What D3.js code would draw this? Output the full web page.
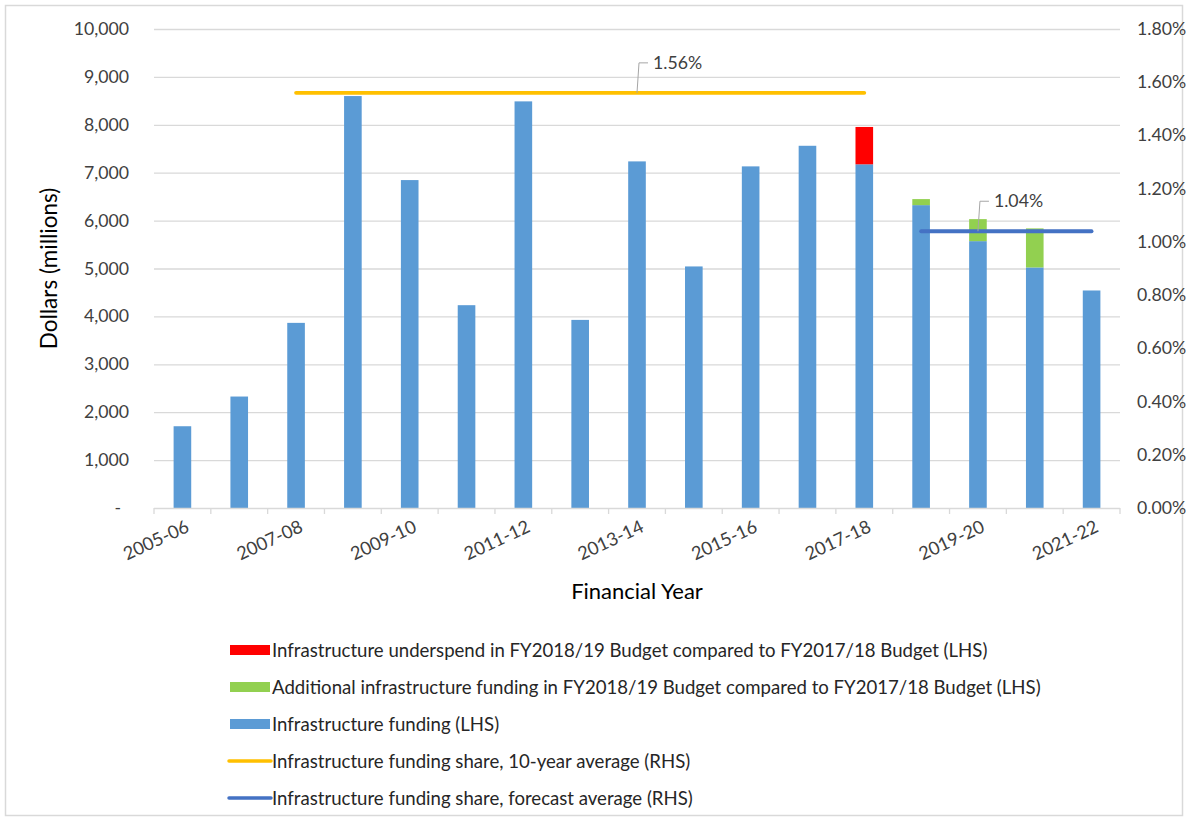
<!DOCTYPE html>
<html>
<head>
<meta charset="utf-8">
<script src="https://cdn.jsdelivr.net/npm/d3@7"></script>
<style>
  body { margin: 0; background: #fff; }
  text { font-family: Lato, "Open Sans", sans-serif; }
</style>
</head>
<body>
<div id="chart"></div>
<script>
// Data
const years = ["2005-06","2006-07","2007-08","2008-09","2009-10","2010-11","2011-12","2012-13",
  "2013-14","2014-15","2015-16","2016-17","2017-18","2018-19","2019-20","2020-21","2021-22"];
// Infrastructure funding (LHS), $m
const funding = [1707, 2327, 3865, 8600, 6846, 4234, 8489, 3927, 7236, 5043, 7132, 7562, 7175, 6323, 5571, 5022, 4541];
// underspend vs FY2017/18 budget (LHS)
const underspend = [0, 0, 0, 0, 0, 0, 0, 0, 0, 0, 0, 0, 780, 0, 0, 0, 0];
// additional funding vs FY2017/18 budget (LHS)
const additional = [0, 0, 0, 0, 0, 0, 0, 0, 0, 0, 0, 0, 0, 126, 460, 815, 0];
// share averages (RHS), %
const tenYearYears = ["2007-08","2017-18"];
const tenYearAvg = 1.56;
const forecastYears = ["2018-19","2021-22"];
const forecastAvg = 1.04;
const leftTicks = [0, 1000, 2000, 3000, 4000, 5000, 6000, 7000, 8000, 9000, 10000];
const rightTicks = [0, 0.2, 0.4, 0.6, 0.8, 1.0, 1.2, 1.4, 1.6, 1.8];
const shownYears = years.filter((d, i) => i % 2 === 0);

const legendItems = [
  {label: "Infrastructure underspend in FY2018/19 Budget compared to FY2017/18 Budget (LHS)", type: "rect", color: "#FF0000"},
  {label: "Additional infrastructure funding in FY2018/19 Budget compared to FY2017/18 Budget (LHS)", type: "rect", color: "#92D050"},
  {label: "Infrastructure funding (LHS)", type: "rect", color: "#5B9BD5"},
  {label: "Infrastructure funding share, 10-year average (RHS)", type: "line", color: "#FFC000"},
  {label: "Infrastructure funding share, forecast average (RHS)", type: "line", color: "#4472C4"}
];

const W = 1188, H = 821;
const plot = {left: 154, right: 1120, top: 29, bottom: 508};

const svg = d3.select("#chart").append("svg")
    .attr("width", W)
    .attr("height", H);

// outer frame
svg.append("rect")
    .attr("x", 5.5).attr("y", 5.5)
    .attr("width", W - 11).attr("height", H - 11)
    .attr("fill", "none").attr("stroke", "#D9D9D9").attr("stroke-width", 1.5);

const x = d3.scaleBand().domain(years).range([plot.left, plot.right]);
const yL = d3.scaleLinear().domain([0, 10000]).range([plot.bottom, plot.top]);
const yR = d3.scaleLinear().domain([0, 1.8]).range([plot.bottom, plot.top]);
const barW = x.bandwidth() * 0.31;

// gridlines
svg.append("g")
  .selectAll("line")
  .data(leftTicks.slice(1))
  .enter().append("line")
    .attr("x1", plot.left).attr("x2", plot.right)
    .attr("y1", d => yL(d) + 0.5).attr("y2", d => yL(d) + 0.5)
    .attr("stroke", "#D9D9D9").attr("stroke-width", 1.3);

// left axis labels
const fmt = d3.format(",");
svg.append("g")
  .selectAll("text")
  .data(leftTicks)
  .enter().append("text")
    .attr("x", d => d === 0 ? 121 : 129)
    .attr("y", d => yL(d) + 6)
    .attr("text-anchor", "end")
    .attr("fill", "#404040")
    .style("font-size", "17.7px")
    .text(d => d === 0 ? "-" : fmt(d));

// right axis labels
svg.append("g")
  .selectAll("text")
  .data(rightTicks)
  .enter().append("text")
    .attr("x", 1137)
    .attr("y", d => yR(d) + 6)
    .attr("text-anchor", "start")
    .attr("fill", "#404040")
    .style("font-size", "17.7px")
    .text(d => d.toFixed(2) + "%");

// stacked bars
const rows = years.map((yr, i) => ({year: yr, funding: funding[i], additional: additional[i], underspend: underspend[i]}));
const keys = ["funding", "additional", "underspend"];
const colors = {funding: "#5B9BD5", additional: "#92D050", underspend: "#FF0000"};
const stack = d3.stack().keys(keys)(rows);

svg.append("g")
  .selectAll("g")
  .data(stack)
  .enter().append("g")
    .attr("fill", d => colors[d.key])
  .selectAll("rect")
  .data(d => d.filter(s => s[1] > s[0]))
  .enter().append("rect")
    .attr("x", d => x(d.data.year) + (x.bandwidth() - barW) / 2)
    .attr("width", barW)
    .attr("y", d => yL(d[1]))
    .attr("height", d => yL(d[0]) - yL(d[1]));

// x axis line + ticks
const xAxis = svg.append("g");
xAxis.append("line")
    .attr("x1", plot.left).attr("x2", plot.right)
    .attr("y1", plot.bottom + 0.5).attr("y2", plot.bottom + 0.5)
    .attr("stroke", "#D9D9D9").attr("stroke-width", 1.3);
xAxis.selectAll(".tk")
  .data(years.concat(["end"]))
  .enter().append("line")
    .attr("class", "tk")
    .attr("x1", d => d === "end" ? plot.right : x(d))
    .attr("x2", d => d === "end" ? plot.right : x(d))
    .attr("y1", plot.bottom).attr("y2", plot.bottom + 6)
    .attr("stroke", "#D9D9D9").attr("stroke-width", 1.3);

xAxis.selectAll(".xl")
  .data(shownYears)
  .enter().append("text")
    .attr("class", "xl")
    .attr("text-anchor", "end")
    .attr("fill", "#404040")
    .style("font-size", "18.2px")
    .attr("transform", d => "translate(" + (x(d) + x.bandwidth() / 2 + 8) + "," + (plot.bottom + 23) + ") rotate(-25)")
    .text(d => d);

// average lines (RHS)
const cx = d => x(d) + x.bandwidth() / 2;
const avgLine = (span, val, color) => {
  svg.append("line")
    .attr("x1", cx(span[0])).attr("x2", cx(span[1]))
    .attr("y1", yR(val)).attr("y2", yR(val))
    .attr("stroke", color).attr("stroke-width", 3.8)
    .attr("stroke-linecap", "round");
};
avgLine(tenYearYears, tenYearAvg, "#FFC000");
avgLine(forecastYears, forecastAvg, "#4472C4");

// data labels with leader lines
const dataLabel = (year, val) => {
  const px = cx(year), py = yR(val);
  svg.append("path")
    .attr("d", "M" + px + "," + py + "L" + (px + 2) + "," + (py - 30) + "L" + (px + 11) + "," + (py - 30))
    .attr("fill", "none").attr("stroke", "#A6A6A6").attr("stroke-width", 1);
  svg.append("text")
    .attr("x", px + 16).attr("y", py - 24)
    .attr("fill", "#404040")
    .style("font-size", "17.7px")
    .text(val.toFixed(2) + "%");
};
dataLabel("2013-14", tenYearAvg);
dataLabel("2019-20", forecastAvg);

// axis titles
svg.append("text")
    .attr("transform", "translate(57," + ((plot.top + plot.bottom) / 2) + ") rotate(-90)")
    .attr("text-anchor", "middle")
    .attr("fill", "#000")
    .style("font-size", "22.5px")
    .text("Dollars (millions)");
svg.append("text")
    .attr("x", 637).attr("y", 599)
    .attr("text-anchor", "middle")
    .attr("fill", "#000")
    .style("font-size", "22px")
    .text("Financial Year");

// legend
const legend = svg.append("g").attr("transform", "translate(229,650)");
const item = legend.selectAll("g")
  .data(legendItems)
  .enter().append("g")
    .attr("transform", (d, i) => "translate(0," + (i * 37) + ")");
item.filter(d => d.type === "rect").append("rect")
    .attr("x", 1).attr("y", -5).attr("width", 40).attr("height", 10)
    .attr("fill", d => d.color);
item.filter(d => d.type === "line").append("line")
    .attr("x1", 0).attr("x2", 42).attr("y1", 0).attr("y2", 0)
    .attr("stroke", d => d.color).attr("stroke-width", 3.5)
    .attr("stroke-linecap", "round");
item.append("text")
    .attr("x", 43).attr("y", 6.5)
    .attr("fill", "#262626")
    .style("font-size", "18.6px")
    .text(d => d.label);
</script>
</body>
</html>
